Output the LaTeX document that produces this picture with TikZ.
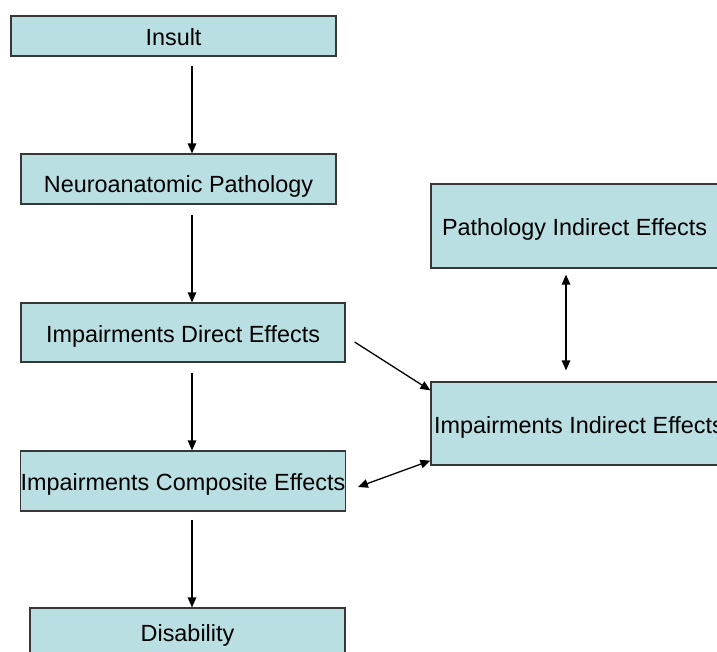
\documentclass[tikz,border=0pt]{standalone}
\usepackage{fontspec}
\setmainfont{Liberation Sans}
\usetikzlibrary{arrows.meta,calc}

\definecolor{boxfill}{RGB}{186,223,227}
\definecolor{boxline}{RGB}{55,55,55}

\tikzset{
  box/.style={draw=boxline, fill=boxfill, line width=1.2pt, inner sep=0pt,
    font=\fontsize{23.4}{28}\selectfont, text=black, anchor=center,
    text height=19.8pt, text depth=0pt},
  arr/.style={draw=black, line width=1.3pt, -{Triangle[length=10pt,width=8.5pt]}},
  darr/.style={draw=black, line width=1.3pt, {Triangle[length=10pt,width=8.5pt]}-{Triangle[length=10pt,width=8.5pt]}}
}

\begin{document}
\begin{tikzpicture}[x=1pt, y=-1pt]
  \useasboundingbox (0,0) rectangle (717,651);
  \clip (0,0) rectangle (717,651);

  % main chain
  \node[box, minimum width=325pt, minimum height=40pt] (insult) at (173.5,36) {Insult};
  \node[box, minimum width=315pt, minimum height=50pt, text height=26.8pt] (neuro) at (178.5,179) {Neuroanatomic Pathology};
  \node[box, minimum width=324pt, minimum height=59pt] (direct) at (183,332.5) {Impairments Direct Effects};
  \node[box, minimum width=324pt, minimum height=60pt] (composite) at (183,481) {Impairments Composite Effects};
  \node[box, minimum width=315pt, minimum height=48pt] (disability) at (187.5,632) {Disability};

  % indirect effects column
  \node[box, minimum width=287pt, minimum height=84pt] (pathind) at (574.5,226) {Pathology Indirect Effects};
  \node[box, minimum width=296pt, minimum height=83pt] (impind) at (579,423.5) {Impairments Indirect Effects};

  % guide columns for the vertical connectors
  \coordinate (spine) at (192,0);
  \coordinate (side) at (566,0);

  \draw[arr] ($(insult.south -| spine)+(0,9)$) -- (neuro.north -| spine);
  \draw[arr] ($(neuro.south -| spine)+(0,10)$) -- (direct.north -| spine);
  \draw[arr] ($(direct.south -| spine)+(0,10)$) -- (composite.north -| spine);
  \draw[arr] ($(composite.south -| spine)+(0,8)$) -- (disability.north -| spine);

  \draw[darr] ($(pathind.south -| side)+(0,6)$) -- ($(impind.north -| side)+(0,-11)$);

  \draw[arr] ($(direct.east)+(9,9.5)$) -- ($(impind.north west)+(0,9)$);
  \draw[darr] ($(composite.east)+(12,6)$) -- ($(impind.south west)+(0,-5)$);
\end{tikzpicture}
\end{document}
